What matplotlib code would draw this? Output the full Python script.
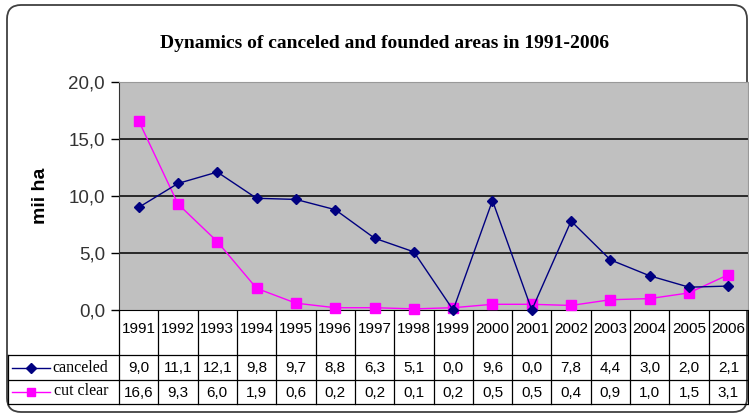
import matplotlib.pyplot as plt
import matplotlib.transforms as mtransforms
from matplotlib.patches import FancyBboxPatch
from matplotlib.lines import Line2D

# dati
anni = ['1991', '1992', '1993', '1994', '1995', '1996', '1997', '1998',
        '1999', '2000', '2001', '2002', '2003', '2004', '2005', '2006']
canceled = [9.0, 11.1, 12.1, 9.8, 9.7, 8.8, 6.3, 5.1, 0.0, 9.6, 0.0, 7.8, 4.4, 3.0, 2.0, 2.1]
cut_clear = [16.6, 9.3, 6.0, 1.9, 0.6, 0.2, 0.2, 0.1, 0.2, 0.5, 0.5, 0.4, 0.9, 1.0, 1.5, 3.1]
y_ticks = [0, 5, 10, 15, 20]

def virgola(v):
    return f"{v:.1f}".replace('.', ',')

W, H = 749, 413
fig = plt.figure(figsize=(W / 100, H / 100), dpi=100)
fig.patch.set_facecolor('white')

# overlay in pixel per bordo e tabella
over = fig.add_axes([0, 0, 1, 1], zorder=0)
over.set_xlim(0, W)
over.set_ylim(H, 0)
over.axis('off')
bordo = FancyBboxPatch((7, 5), 740, 407, boxstyle="round,pad=0,rounding_size=14",
                       fill=False, edgecolor='#404040', lw=1.3, clip_on=False)
over.add_patch(bordo)

# area del grafico
x0, x1, ytop, ybot = 119, 748, 82, 310
ax = fig.add_axes([x0 / W, 1 - ybot / H, (x1 - x0) / W, (ybot - ytop) / H], zorder=2)
ax.set_facecolor('#c0c0c0')
x = list(range(len(anni)))
ax.plot(x, canceled, color='#000080', lw=1, marker='D', ms=5.5, zorder=4, clip_on=False)
ax.plot(x, cut_clear, color='#ff00ff', lw=1, marker='s', ms=6.5, zorder=3, clip_on=False)
ax.set_xlim(-0.5, len(anni) - 0.5)
ax.set_ylim(0, 20)
ax.set_yticks(y_ticks)
ax.set_yticklabels([virgola(v) for v in y_ticks], fontsize=13.5, family='Liberation Sans', color='#333333')
ax.set_xticks([])
for v in y_ticks[1:-1]:
    ax.axhline(v, color='black', lw=1.1, zorder=1)
ax.tick_params(axis='y', length=6, width=1, pad=4, color='black')
ax.spines['left'].set_color('#333333')
ax.spines['bottom'].set_color('black')
ax.spines['top'].set_color('#999999')
ax.spines['right'].set_color('#999999')
ax.set_ylabel('mii ha', fontsize=14, fontweight='bold', family='Liberation Sans', labelpad=14)

fig.text(385 / W, 1 - 43 / H, 'Dynamics of canceled and founded areas in 1991-2006',
         ha='center', va='center', fontsize=14, fontweight='bold', family='Liberation Serif')

# tabella dati sotto il grafico
tr = mtransforms.blended_transform_factory(ax.transData, over.transData)
n = len(anni)
y_head, y_r1, y_r2, y_end = 310, 355, 380, 404
lk = dict(color='black', lw=0.9, transform=tr, clip_on=False)
for i in range(n + 1):
    over.add_line(Line2D([i - 0.5, i - 0.5], [y_head, y_end], **lk))
for yy in [y_r1, y_r2, y_end]:
    over.plot([8, 747], [yy, yy], color='black', lw=0.9, clip_on=False)
over.plot([8, 8], [y_r1, y_end], color='black', lw=0.9, clip_on=False)

for i, anno in enumerate(anni):
    over.text(i, 329, anno, transform=tr, ha='center', va='center',
              fontsize=11, family='Liberation Sans')
    over.text(i, (y_r1 + y_r2) / 2 + 1, virgola(canceled[i]), transform=tr, ha='center',
              va='center', fontsize=11, family='Liberation Sans')
    over.text(i, (y_r2 + y_end) / 2 + 1, virgola(cut_clear[i]), transform=tr, ha='center',
              va='center', fontsize=11, family='Liberation Sans')

# legenda nella prima colonna
over.plot([12, 50], [368, 368], color='#000080', lw=1)
over.plot([31], [368], marker='D', color='#000080', ms=5)
over.text(52, 368, 'canceled', ha='left', va='center', fontsize=11.5, family='Liberation Serif')
over.plot([12, 50], [392, 392], color='#ff00ff', lw=1)
over.plot([31], [392], marker='s', color='#ff00ff', ms=6)
over.text(54, 391, 'cut clear', ha='left', va='center', fontsize=11.5, family='Liberation Serif')

fig.savefig('out.png', dpi=100)
